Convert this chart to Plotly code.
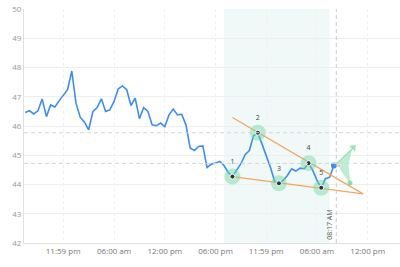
import pandas as pd
import plotly.graph_objects as go

# ---- data ----
start_time = "2024-05-13 19:30"
prices = [46.46, 46.52, 46.41, 46.52, 46.92, 46.32, 46.72, 46.65, 46.86, 47.04,
          47.24, 47.88, 46.78, 46.30, 46.13, 45.87, 46.50, 46.63, 46.93, 46.50,
          46.55, 46.84, 47.27, 47.37, 47.24, 46.70, 46.95, 46.25, 46.63, 46.50,
          46.04, 46.01, 46.10, 45.98, 46.38, 46.58, 46.38, 46.40, 46.04, 45.25,
          45.16, 45.30, 45.32, 44.58, 44.70, 44.73, 44.79, 44.65, 44.41, 44.27,
          44.47, 44.71, 45.02, 45.16, 45.67, 45.77, 45.38, 44.98, 44.58, 44.10,
          44.04, 44.14, 44.31, 44.54, 44.46, 44.56, 44.54, 44.73, 44.48, 44.14,
          43.89, 44.20, 44.25, 44.65]
times = pd.date_range(start_time, periods=len(prices), freq="30min")

pattern_labels = ["1", "2", "3", "4", "5"]
pattern_times = ["2024-05-14 20:00", "2024-05-14 23:00", "2024-05-15 01:30",
                 "2024-05-15 05:00", "2024-05-15 06:30"]
pattern_values = [44.27, 45.77, 44.04, 44.73, 43.89]

upper_times = ["2024-05-14 20:00", "2024-05-15 11:27"]
upper_values = [46.29, 43.68]
lower_times = ["2024-05-14 20:00", "2024-05-15 11:27"]
lower_values = [44.27, 43.68]

level_values = [45.77, 44.72]
shade_range = ["2024-05-14 19:00", "2024-05-15 07:30"]
now_time = "2024-05-15 08:17"
now_label = "08:17 AM"

fan_times = ["2024-05-15 08:20", "2024-05-15 10:06", "2024-05-15 09:40",
             "2024-05-15 09:54", "2024-05-15 08:20"]
fan_values = [44.72, 45.21, 44.70, 44.05, 44.72]
fan_arrow_times = ["2024-05-15 08:20", "2024-05-15 10:18"]
fan_arrow_values = [44.72, 45.26]
proj_times = ["2024-05-15 08:00", "2024-05-15 08:38"]
proj_values = [44.65, 44.64]

tick_vals = ["2024-05-13 23:59", "2024-05-14 06:00", "2024-05-14 12:00",
             "2024-05-14 18:00", "2024-05-14 23:59", "2024-05-15 06:00",
             "2024-05-15 12:00"]
tick_text = ["11:59 pm", "06:00 am", "12:00 pm", "06:00 pm", "11:59 pm",
             "06:00 am", "12:00 pm"]
y_range = [42, 50]
x_range = ["2024-05-13 19:21", "2024-05-15 15:49"]

# ---- styles ----
BLUE = "#3d8ef0"
ORANGE = "#f5a55f"
GREEN = "rgba(110,215,160,0.45)"
FONT = "Open Sans, Arial, sans-serif"

fig = go.Figure()

fig.add_vrect(x0=shade_range[0], x1=shade_range[1],
              fillcolor="rgba(60,170,150,0.07)", line_width=0, layer="below")

for lv in level_values:
    fig.add_hline(y=lv, line=dict(color="#d6d6d6", width=1, dash="4px,3px"))
fig.add_vline(x=now_time, line=dict(color="#cccccc", width=1, dash="4px,3px"))

# fan
fig.add_trace(go.Scatter(x=fan_times, y=fan_values, mode="lines", fill="toself",
                         fillcolor="rgba(110,215,160,0.45)",
                         line=dict(color="rgba(110,215,160,0.6)", width=0.5),
                         hoverinfo="skip", showlegend=False))
fig.add_trace(go.Scatter(x=fan_arrow_times, y=fan_arrow_values, mode="lines+markers",
                         line=dict(color="rgba(110,215,160,0.8)", width=1),
                         marker=dict(size=[0, 6], symbol="triangle-up",
                                     color="rgba(110,215,160,0.9)", angle=[0, 45]),
                         hoverinfo="skip", showlegend=False))
fig.add_trace(go.Scatter(x=[fan_times[3]], y=[fan_values[3]], mode="markers",
                         marker=dict(size=5, color="rgba(110,215,160,0.8)"),
                         hoverinfo="skip", showlegend=False))

# price line
fig.add_trace(go.Scatter(x=times, y=prices, mode="lines",
                         line=dict(color=BLUE, width=1.6), showlegend=False))

# pattern lines
fig.add_trace(go.Scatter(x=upper_times, y=upper_values, mode="lines",
                         line=dict(color=ORANGE, width=1.3), showlegend=False))
fig.add_trace(go.Scatter(x=lower_times, y=lower_values, mode="lines",
                         line=dict(color=ORANGE, width=1.3), showlegend=False))
fig.add_trace(go.Scatter(x=proj_times, y=proj_values, mode="lines+markers",
                         line=dict(color=ORANGE, width=1.2),
                         marker=dict(size=[0, 3], color=ORANGE),
                         showlegend=False))

# pattern points (halo carries the labels so they sit above it)
fig.add_trace(go.Scatter(x=pattern_times, y=pattern_values, mode="markers+text",
                         marker=dict(size=16, color=GREEN),
                         text=pattern_labels, textposition="top center",
                         textfont=dict(size=7, color="#444", family=FONT),
                         showlegend=False))
fig.add_trace(go.Scatter(x=pattern_times, y=pattern_values, mode="markers",
                         marker=dict(size=5, color="#333333",
                                     line=dict(color="white", width=1)),
                         showlegend=False))

# last price dot
fig.add_trace(go.Scatter(x=[times[-1]], y=[prices[-1]], mode="markers",
                         marker=dict(size=6, color=BLUE), showlegend=False))

fig.add_annotation(x=now_time, y=0, yref="paper", text=now_label, textangle=-90,
                   showarrow=False, xanchor="right", yanchor="bottom",
                   xshift=-1, yshift=1, font=dict(size=7, color="#555", family=FONT))

fig.update_layout(
    width=400, height=267,
    margin=dict(l=24, r=0, t=9, b=24),
    paper_bgcolor="white", plot_bgcolor="white",
    font=dict(family=FONT, size=8, color="#888"),
)
fig.update_xaxes(range=x_range, tickvals=tick_vals, ticktext=tick_text,
                 showgrid=True, gridcolor="#f0f0f0", griddash="dot", gridwidth=1,
                 showline=True, linecolor="#e0e0e0", ticks="",
                 tickfont=dict(size=8, color="#777"))
fig.update_yaxes(range=y_range, dtick=1, showgrid=True, gridcolor="#eeeeee",
                 showline=True, linecolor="#e0e0e0", ticks="", zeroline=False,
                 tickfont=dict(size=8, color="#999"))

fig.write_html("out.html")
